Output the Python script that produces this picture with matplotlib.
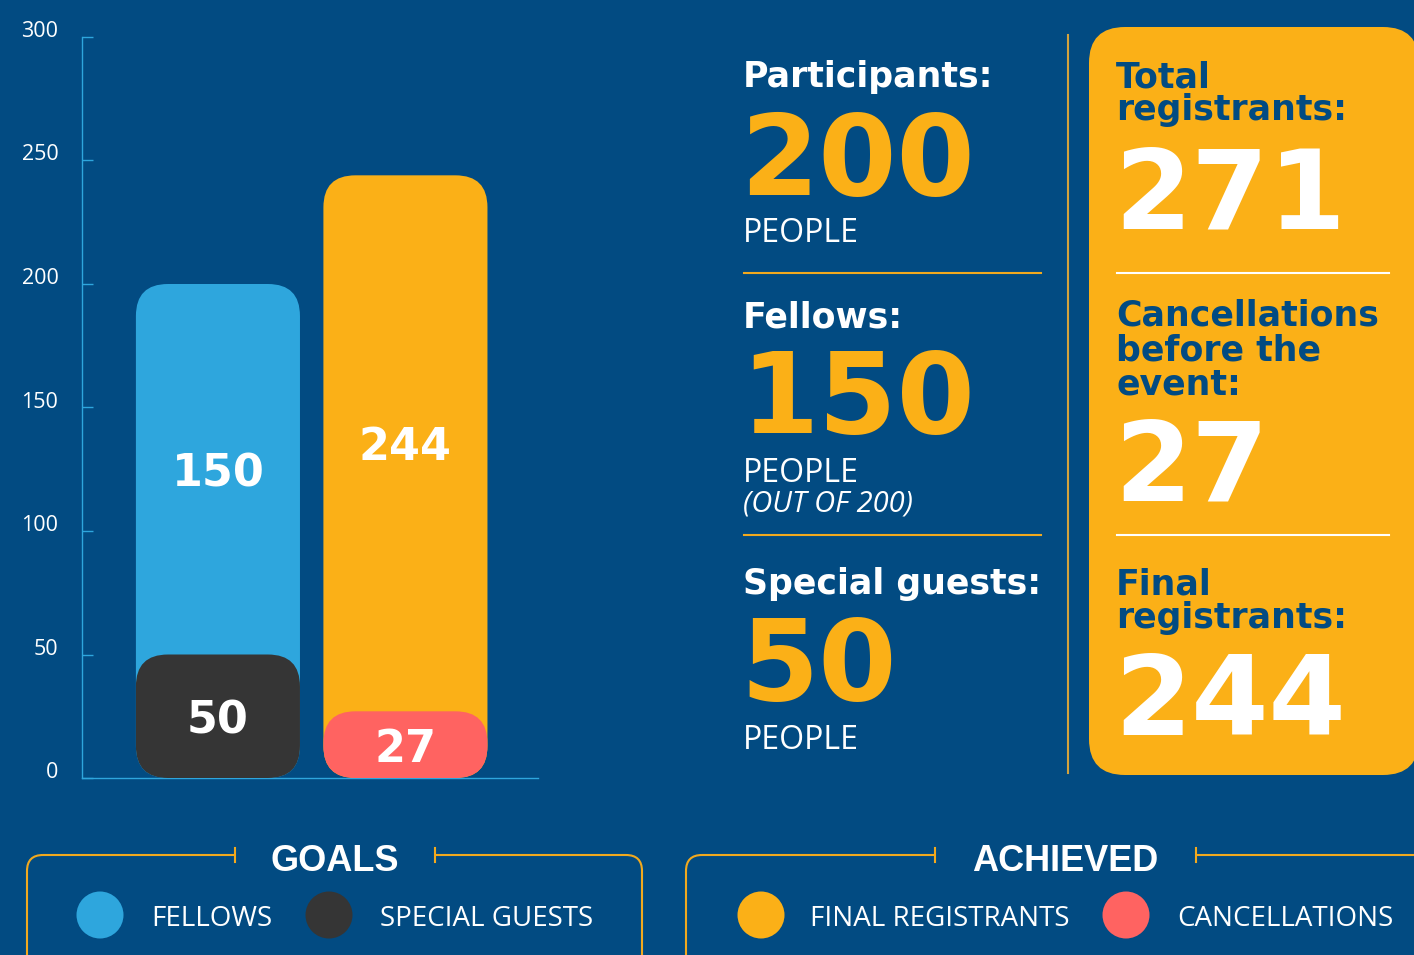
import matplotlib
matplotlib.use('Agg')
import matplotlib.pyplot as plt
from matplotlib.patches import FancyBboxPatch, Rectangle, Circle

# chart data
bar_positions = [0, 1]
back_values = [200, 244]     # participants goal, final registrants
front_values = [50, 27]      # special guests, cancellations
back_labels = [150, 244]     # fellows, final registrants
y_ticks = [0, 50, 100, 150, 200, 250, 300]

# summary numbers
participants = 200
fellows = 150
special_guests = 50
total_registrants = 271
cancellations = 27
final_registrants = 244

goals_legend = ['FELLOWS', 'SPECIAL GUESTS']
achieved_legend = ['FINAL REGISTRANTS', 'CANCELLATIONS']

BG = '#024B82'
BLUE = '#2EA6DD'
DARK = '#353535'
ORANGE = '#FBB017'
RED = '#FF6361'
LINE = '#F2A91E'
GOLD = '#D4A23C'

HEAD = 'DejaVu Sans'
BODY = 'Open Sans'
TITLE = 'Liberation Sans'

fig = plt.figure(figsize=(14.14, 9.55), dpi=100, facecolor=BG)

# overlay in pixel coordinates for the text panels and legends
ov = fig.add_axes([0, 0, 1, 1])
ov.set_xlim(0, 1414)
ov.set_ylim(955, 0)
ov.axis('off')

# bar chart
ax = fig.add_axes([82 / 1414, 177 / 955, 456 / 1414, 741 / 955])
ax.set_facecolor('none')
ax.set_xlim(-0.725, 1.707)
ax.set_ylim(0, 300)

back = ax.bar(bar_positions, back_values, width=0.875, color=[BLUE, ORANGE], zorder=2)
front = ax.bar(bar_positions, front_values, width=0.875, color=[DARK, RED], zorder=3)

# swap plain rectangles for rounded ones
px_x = ax.transData.transform((1, 0))[0] - ax.transData.transform((0, 0))[0]
px_y = ax.transData.transform((0, 1))[1] - ax.transData.transform((0, 0))[1]
r_px = 32


def round_bar(rect):
    x, y = rect.get_xy()
    rs = r_px / px_x
    patch = FancyBboxPatch((x, y), rect.get_width(), rect.get_height(),
                           boxstyle=f'round,pad=0,rounding_size={rs}',
                           mutation_aspect=px_x / px_y,
                           facecolor=rect.get_facecolor(), edgecolor='none',
                           zorder=rect.get_zorder())
    rect.set_visible(False)
    ax.add_patch(patch)


for r in list(back) + list(front):
    round_bar(r)

for i, x in enumerate(bar_positions):
    ax.text(x, (front_values[i] + back_values[i]) / 2, str(back_labels[i]),
            ha='center', va='center_baseline', color='white', fontsize=32,
            fontweight='bold', family=HEAD, zorder=5)
    ax.text(x, front_values[i] / 2, str(front_values[i]),
            ha='center', va='center_baseline', color='white', fontsize=32,
            fontweight='bold', family=HEAD, zorder=5)

ax.set_yticks(y_ticks)
ax.set_xticks([])
ax.tick_params(axis='y', direction='in', length=8, width=1, color=BLUE,
               labelcolor='white', labelsize=15.5, pad=17)
for lbl in ax.get_yticklabels():
    lbl.set_verticalalignment('baseline')
    lbl.set_family(BODY)
for side in ['top', 'right']:
    ax.spines[side].set_visible(False)
for side in ['left', 'bottom']:
    ax.spines[side].set_color(BLUE)
    ax.spines[side].set_linewidth(1)

# left summary column
cx = 743
heads = [('Participants:', 87), ('Fellows:', 327), ('Special guests:', 594)]
for txt, yb in heads:
    ov.text(cx, yb, txt, color='white', fontsize=25, fontweight='bold',
            family=HEAD, va='baseline')
bigs = [(participants, 195), (fellows, 433), (special_guests, 700)]
for val, yb in bigs:
    ov.text(cx - 3, yb, str(val), color=ORANGE, fontsize=81, fontweight='bold',
            family=HEAD, va='baseline')
for yb in [242, 482, 749]:
    ov.text(cx, yb, 'PEOPLE', color='white', fontsize=23, family=BODY, va='baseline')
ov.text(cx, 511, '(OUT OF 200)', color='white', fontsize=21, family=BODY,
        style='italic', va='baseline')
for yl in [273, 535]:
    ov.plot([744, 1041], [yl, yl], color=LINE, lw=1.5)
ov.plot([1068, 1068], [35, 773], color=GOLD, lw=1.5)

# orange summary card
card = FancyBboxPatch((1089, 27), 330, 748, boxstyle='round,pad=0,rounding_size=36',
                      facecolor=ORANGE, edgecolor='none')
ov.add_patch(card)
bx = 1116
card_heads = [('Total', 87), ('registrants:', 120),
              ('Cancellations', 325), ('before the', 360), ('event:', 394),
              ('Final', 594), ('registrants:', 628)]
for txt, yb in card_heads:
    ov.text(bx, yb, txt, color=BG, fontsize=25, fontweight='bold',
            family=HEAD, va='baseline')
card_bigs = [(total_registrants, 228), (cancellations, 500), (final_registrants, 735)]
for val, yb in card_bigs:
    ov.text(bx - 2, yb, str(val), color='white', fontsize=80, fontweight='bold',
            family=HEAD, va='baseline')
for yl in [273, 535]:
    ov.plot([1117, 1389], [yl, yl], color='white', lw=1.5)


# legends
def legend_box(x0, x1, gap0, gap1, title, labels, colors, dot_x, text_x):
    box = FancyBboxPatch((x0, 855), x1 - x0, 220, boxstyle='round,pad=0,rounding_size=16',
                         facecolor='none', edgecolor=LINE, lw=1.5)
    ov.add_patch(box)
    ov.add_patch(Rectangle((gap0 + 1, 845), gap1 - gap0 - 2, 20, facecolor=BG,
                           edgecolor='none', zorder=3))
    for gx in [gap0, gap1]:
        ov.plot([gx, gx], [848, 862], color=LINE, lw=1.5, zorder=4)
    ov.text((gap0 + gap1) / 2, 857, title, ha='center', va='center_baseline',
            color='white', fontsize=26, fontweight='bold', family=TITLE, zorder=4)
    for lab, col, dx, tx in zip(labels, colors, dot_x, text_x):
        ov.add_patch(Circle((dx, 915), 23.5, facecolor=col, edgecolor='none'))
        ov.text(tx, 915, lab, ha='left', va='center_baseline', color='white',
                fontsize=20, family=BODY)


legend_box(27, 642, 235, 435, 'GOALS', goals_legend, [BLUE, DARK], [100, 329], [151, 380])
legend_box(686, 1480, 935, 1196, 'ACHIEVED', achieved_legend, [ORANGE, RED],
           [761, 1126], [810, 1177])

fig.savefig('out.png', dpi=100, facecolor=BG)
